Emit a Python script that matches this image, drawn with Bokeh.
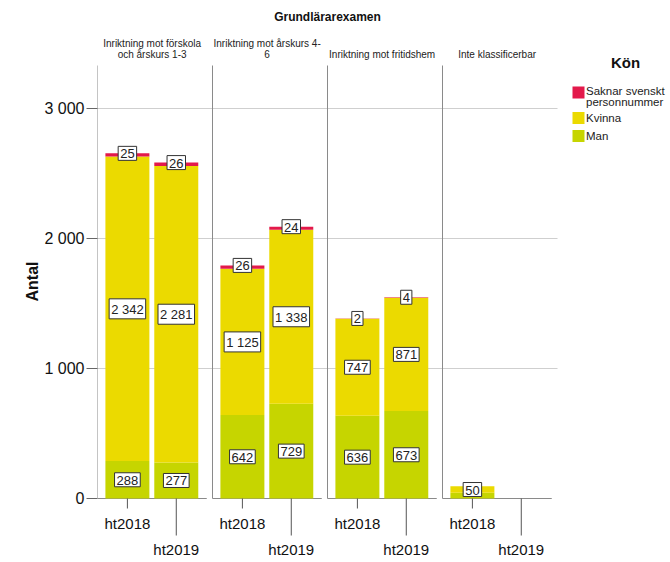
from bokeh.plotting import figure
from bokeh.models import Range1d, FixedTicker, ColumnDataSource
from bokeh.embed import file_html
from bokeh.resources import INLINE
from bokeh.core.properties import value

# ---------------- data ----------------
chart_title = "Grundlärarexamen"
panels = ["Inriktning mot förskola\noch årskurs 1-3",
          "Inriktning mot årskurs 4-\n6",
          "Inriktning mot fritidshem",
          "Inte klassificerbar"]
terms = ["ht2018", "ht2019"]
legend_title = "Kön"
series_names = ["Saknar svenskt\npersonnummer", "Kvinna", "Man"]
series_colors = ["#E3194B", "#EBDA00", "#C6D500"]

# values per panel, [ht2018, ht2019]
man = [[288, 277], [642, 729], [636, 673], [44, 0]]
kvinna = [[2342, 2281], [1125, 1338], [747, 871], [50, 0]]
saknar = [[25, 26], [26, 24], [2, 4], [0, 0]]

y_ticks = [0, 1000, 2000, 3000]
y_tick_labels = ["0", "1 000", "2 000", "3 000"]
y_label = "Antal"

# ---------------- layout constants ----------------
W, H = 670, 562
LEFT = 97             # canvas px of frame left
PXX = 57.5            # px per x unit
PXY = 0.13            # px per y unit
ZERO_PAGE = 498       # canvas y of value 0
FRAME_TOP_PAGE = 0
FRAME_BOT_PAGE = H
FRAME_LEFT_PAGE = LEFT


def X(px):
    return (px - FRAME_LEFT_PAGE) / PXX


def Y(py):
    return (ZERO_PAGE - py) / PXY


x_end = (W - LEFT) / PXX
p = figure(width=W, height=H, output_backend="svg", toolbar_location=None,
           x_range=Range1d(0, x_end),
           y_range=Range1d(Y(FRAME_BOT_PAGE), Y(FRAME_TOP_PAGE)),
           x_axis_location=None, min_border_left=LEFT, min_border_right=0,
           min_border_top=0, min_border_bottom=0)
p.outline_line_color = None
p.grid.visible = False
p.background_fill_color = "white"
p.border_fill_color = "white"

FONT = "Liberation Sans"

# y axis
ax = p.yaxis[0]
ax.ticker = FixedTicker(ticks=y_ticks)
ax.major_label_overrides = {t: l for t, l in zip(y_ticks, y_tick_labels)}
ax.axis_line_color = None
ax.major_tick_out = 11
ax.major_tick_in = 0
ax.minor_tick_out = 0
ax.minor_tick_in = 0
ax.major_tick_line_color = "#666666"
ax.major_label_text_font = FONT
ax.major_label_text_font_size = "16px"
ax.major_label_text_color = "#111111"
ax.major_label_standoff = 2
ax.axis_label = y_label
ax.axis_label_text_font = FONT
ax.axis_label_text_font_size = "16px"
ax.axis_label_text_font_style = "bold"
ax.axis_label_text_color = "#111111"
ax.axis_label_standoff = 0

n_panels = len(panels)
bar_offsets = [0.52, 1.37]
bar_w = 0.765
sep_top = Y(65)

# gridlines
gx0, gx1, gy = [], [], []
for t in y_ticks[1:]:
    gx0.append(0)
    gx1.append(2 * n_panels)
    gy.append(t)
p.segment(x0=gx0, y0=gy, x1=gx1, y1=gy, line_color="#cfcfcf", line_width=1)

# panel separators and bottom lines
p.segment(x0=[2 * i for i in range(n_panels)], y0=[0] * n_panels,
          x1=[2 * i for i in range(n_panels)], y1=[sep_top] * n_panels,
          line_color="#8a8a8a", line_width=1)
p.segment(x0=[2 * i for i in range(n_panels)], y0=[0] * n_panels,
          x1=[2 * i + 1.9 for i in range(n_panels)], y1=[0] * n_panels,
          line_color="#8a8a8a", line_width=1)

# bars
segs = {"x": [], "bottom": [], "top": [], "color": []}
labels = {"x": [], "y": [], "text": []}


def fmt(v):
    return f"{v:,}".replace(",", " ")


for i in range(n_panels):
    for j in range(len(terms)):
        x = 2 * i + bar_offsets[j]
        m, k, s = man[i][j], kvinna[i][j], saknar[i][j]
        stack = [(m, series_colors[2]), (k, series_colors[1]), (s, series_colors[0])]
        base = 0
        for v, c in stack:
            if v > 0:
                segs["x"].append(x)
                segs["bottom"].append(base)
                segs["top"].append(base + v)
                segs["color"].append(c)
            base += v
        if m >= 100:
            labels["x"].append(x); labels["y"].append(m / 2); labels["text"].append(fmt(m))
        if k > 0:
            labels["x"].append(x); labels["y"].append(m + k / 2); labels["text"].append(fmt(k))
        if s > 0:
            labels["x"].append(x); labels["y"].append(m + k + s); labels["text"].append(fmt(s))

p.vbar(x="x", bottom="bottom", top="top", width=bar_w, color="color",
       line_color=None, source=ColumnDataSource(segs))

p.text(x="x", y="y", text="text", source=ColumnDataSource(labels),
       text_font=value(FONT), text_font_size="13px", text_color="#222222",
       text_align="center", text_baseline="middle",
       background_fill_color="white", border_line_color="#333333",
       border_line_width=1, padding=dict(left=2, right=2, top=3, bottom=2))

# x ticks and staggered labels
tick_len = [Y(508), Y(535)]
lab_y = [Y(523), Y(549)]
tx, ty0, ty1, lx, ly, lt = [], [], [], [], [], []
for i in range(n_panels):
    for j, term in enumerate(terms):
        x = 2 * i + bar_offsets[j]
        tx.append(x); ty0.append(0); ty1.append(tick_len[j])
        lx.append(x); ly.append(lab_y[j]); lt.append(term)
p.segment(x0=tx, y0=ty0, x1=tx, y1=ty1, line_color="#555555", line_width=1)
p.text(x=lx, y=ly, text=lt, text_font=value(FONT), text_font_size="15px",
       text_color="#111111", text_align="center", text_baseline="middle")

# titles
p.text(x=[n_panels], y=[Y(16)], text=[chart_title], text_font=value(FONT),
       text_font_size="12px", text_font_style="bold", text_color="#111111",
       text_align="center", text_baseline="middle")
p.text(x=[2 * i + 0.95 for i in range(n_panels)], y=[Y(59)] * n_panels,
       text=panels, text_font=value(FONT), text_font_size="10px",
       text_color="#222222", text_align="center", text_baseline="bottom",
       text_line_height=1.0)

# legend
p.text(x=[X(625)], y=[Y(62)], text=[legend_title], text_font=value(FONT),
       text_font_size="15px", text_font_style="bold", text_color="#111111",
       text_align="center", text_baseline="middle")
sq_y = [Y(92), Y(117.5), Y(135.5)]
p.rect(x=[X(578)] * 3, y=sq_y, width=12, height=12, width_units="screen",
       height_units="screen", color=series_colors, line_color=None)
p.text(x=[X(585.5)] * 3, y=[Y(84.5), Y(117.5), Y(135.5)], text=series_names,
       text_font=value(FONT), text_font_size="11.5px", text_color="#222222",
       text_align="left", text_baseline=["top", "middle", "middle"],
       text_line_height=0.95)

open("out.html", "w").write(file_html(p, INLINE))
